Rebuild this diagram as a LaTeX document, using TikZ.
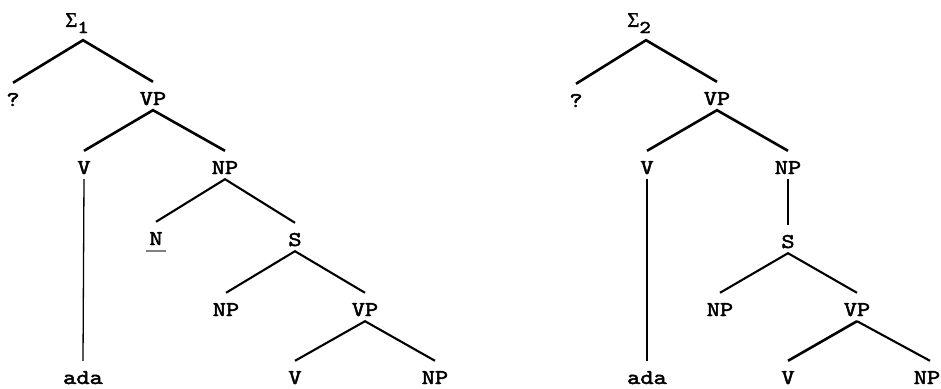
\documentclass[tikz,border=0pt]{standalone}
\usepackage{fontspec}
\newfontfamily\labfont[FakeStretch=1.2,FakeBold=2.2]{lmmono10-regular.otf}
\newfontfamily\sigfont[FakeBold=1]{Liberation Serif}
\begin{document}
\begin{tikzpicture}[x=1pt,y=-1pt,
  lab/.style={inner sep=0pt, text height=23pt, text depth=5pt, anchor=base, font=\labfont\fontsize{21}{24}\selectfont},
  rootlab/.style={inner sep=0pt, text height=20pt, text depth=13pt, anchor=base, font=\labfont\fontsize{18}{22}\selectfont},
  thickbr/.style={line width=2.6pt},
  br/.style={line width=2.1pt},
  vline/.style={line width=1.3pt}]
\useasboundingbox (0,0) rectangle (941,388);
% ---------- left tree
\node[rootlab] (r1) at (77,27) {{\sigfont\fontsize{21}{24}\selectfont Σ}\raisebox{-6pt}{1}};
\node[lab] (q1) at (13,106) {?};
\node[lab] (vp1) at (153,105) {VP};
\node[lab] (v1) at (84,174) {V};
\node[lab] (np1) at (225,174) {NP};
\node[lab] (ada1) at (83,384) {ada};
\node[lab] (n1) at (156,245) {N};
\node[lab] (s1) at (295,246) {S};
\node[lab] (np2) at (226,316) {NP};
\node[lab] (vp2) at (365,316) {VP};
\node[lab] (v2) at (295,384) {V};
\node[lab] (np3) at (435,384) {NP};
\draw[thickbr] (q1.north) -- ([xshift=6pt]r1.south) -- (vp1.north);
\draw[thickbr] (v1.north) -- (vp1.south) -- (np1.north);
\draw[br] (n1.north) -- (np1.south) -- (s1.north);
\draw[br] (np2.north) -- (s1.south) -- (vp2.north);
\draw[br] (v2.north) -- (vp2.south) -- (np3.north);
\draw[vline] (v1.south) -- (ada1.north);
\draw[gray, line width=1.8pt] ([xshift=-3pt,yshift=-6pt]n1.base west) -- ([xshift=3pt,yshift=-6pt]n1.base east);
% ---------- right tree
\node[rootlab] (r2) at (639,27) {{\sigfont\fontsize{21}{24}\selectfont Σ}\raisebox{-6pt}{2}};
\node[lab] (q2) at (576,107) {?};
\node[lab] (vp3) at (717,105) {VP};
\node[lab] (v3) at (647,174) {V};
\node[lab] (np4) at (788,174) {NP};
\node[lab] (s2) at (788,248) {S};
\node[lab] (np5) at (720,316) {NP};
\node[lab] (vp4) at (857,316) {VP};
\node[lab] (ada2) at (647,384) {ada};
\node[lab] (v4) at (788,384) {V};
\node[lab] (np6) at (927,384) {NP};
\draw[thickbr] (q2.north) -- ([xshift=7pt]r2.south) -- (vp3.north);
\draw[thickbr] (v3.north) -- (vp3.south) -- (np4.north);
\draw[vline] (np4.south) -- (s2.north);
\draw[br] (np5.north) -- (s2.south) -- (vp4.north);
\draw[thickbr] (v4.north) -- (vp4.south);
\draw[br] (vp4.south) -- ([xshift=3pt]np6.north);
\draw[vline] (v3.south) -- (ada2.north);
\end{tikzpicture}
\end{document}
